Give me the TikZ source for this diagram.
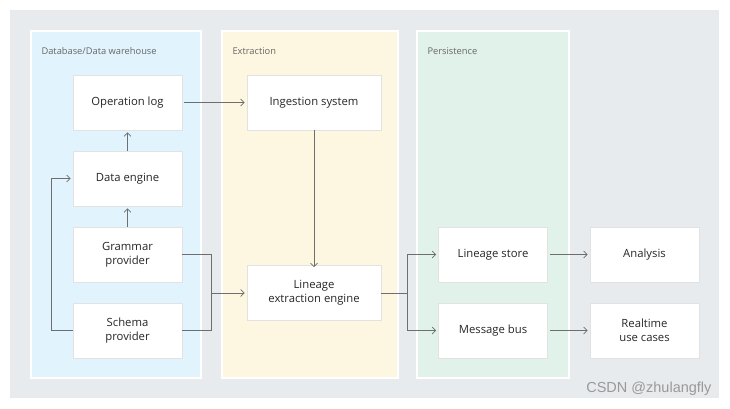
\documentclass[tikz,border=0pt]{standalone}
\usepackage{fontspec}
\setmainfont{Open Sans}
\newfontfamily\wmfont{Liberation Sans}
\usetikzlibrary{arrows.meta}
\definecolor{bggray}{HTML}{E8EBEE}
\definecolor{pblue}{HTML}{E1F4FD}
\definecolor{pyellow}{HTML}{FDF6E0}
\definecolor{pgreen}{HTML}{E1F2EA}
\definecolor{linegray}{HTML}{6E6E6E}
\definecolor{boxedge}{HTML}{E2E2E2}
\definecolor{labgray}{HTML}{666666}
\tikzset{
  panel/.style={draw=white, line width=1.5pt},
  box/.style={draw=boxedge, fill=white, line width=0.8pt, minimum width=109pt, minimum height=55pt, inner sep=0pt, align=center, font=\fontsize{11.3}{14}\selectfont, text=black!85},
  plabel/.style={anchor=west, font=\fontsize{9.3}{11}\selectfont, text=labgray},
  conn/.style={draw=linegray, line width=0.8pt, -{Straight Barb[length=3.5pt,width=7pt,line width=0.7pt]}},
  plain/.style={draw=linegray, line width=0.8pt},
}
\begin{document}
\begin{tikzpicture}[x=1pt,y=-1pt]
\useasboundingbox (0,0) rectangle (730,409);
\fill[white] (0,0) rectangle (730,409);
\fill[bggray] (10,10) rectangle (719,398);
\filldraw[panel, fill=pblue] (31,31) rectangle (201,378);
\filldraw[panel, fill=pyellow] (222,31) rectangle (398,378);
\filldraw[panel, fill=pgreen] (417,31) rectangle (569,378);
\node[plabel] (l1) at (38,51) {Database/Data warehouse};
\node[plabel] (l2) at (229,51) {Extraction};
\node[plabel] (l3) at (424,51) {Persistence};

\node[box] (oplog) at (127.5,102.5) {Operation log};
\node[box] (deng) at (127.5,178.5) {Data engine};
\node[box] (gram) at (127.5,254.5) {Grammar\\provider};
\node[box] (schema) at (127.5,330.5) {Schema\\provider};
\node[box, minimum width=134pt] (ingest) at (314,102.5) {Ingestion system};
\node[box, minimum width=134pt] (lee) at (314,293) {Lineage\\extraction engine};
\node[box] (store) at (493,254.5) {Lineage store};
\node[box] (bus) at (493,330.5) {Message bus};
\node[box] (anal) at (644.5,254.5) {Analysis};
\node[box] (real) at (644.5,330.5) {Realtime\\use cases};

\coordinate (j1) at (211,293);
\coordinate (j2) at (407,293);

\draw[conn] (oplog.east) ++(2,0) -- ([xshift=-2pt]ingest.west);
\draw[conn] (deng.north) -- ([yshift=-2pt]oplog.south);
\draw[conn] (gram.north) -- ([yshift=-2pt]deng.south);
\draw[conn] (schema.west) -| (51,178.5) -- ([xshift=-2pt]deng.west);
\draw[plain] (gram.east) -| (j1);
\draw[plain] (schema.east) -| (j1);
\draw[conn] (j1) -- ([xshift=-2pt]lee.west);
\draw[conn] (ingest.south) -- ([yshift=-2pt]lee.north);
\draw[plain] (lee.east) -- (j2);
\draw[conn] (j2) |- ([xshift=-2pt]store.west);
\draw[conn] (j2) |- ([xshift=-2pt]bus.west);
\draw[conn] ([xshift=2pt]store.east) -- ([xshift=-2pt]anal.west);
\draw[conn] ([xshift=2pt]bus.east) -- ([xshift=-2pt]real.west);

\node[anchor=east, font=\wmfont\fontsize{14.5}{16}\selectfont, text=black!40] (wm) at (715,389) {CSDN @zhulangfly};
\end{tikzpicture}
\end{document}
